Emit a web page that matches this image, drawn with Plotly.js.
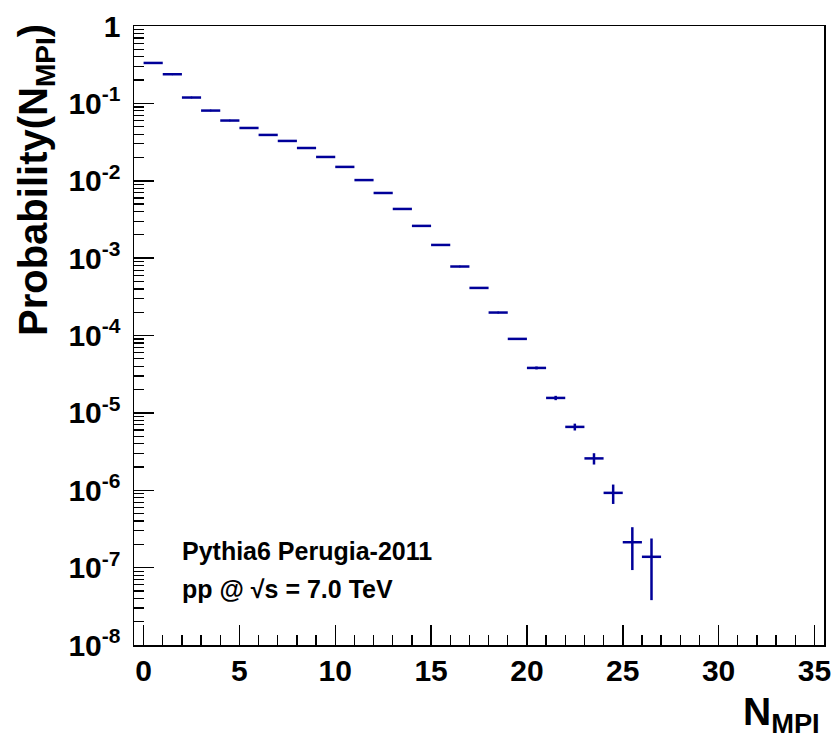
<!DOCTYPE html>
<html>
<head>
<meta charset="utf-8">
<script src="https://cdn.plot.ly/plotly-3.0.1.min.js"></script>
<style>html,body{margin:0;padding:0;background:#fff;}#chart{width:836px;height:741px;}</style>
</head>
<body>
<div id="chart"></div>
<script>
// Bin centres of N_MPI (bins of width 1)
var nmpi = [0.5, 1.5, 2.5, 3.5, 4.5, 5.5, 6.5, 7.5, 8.5, 9.5,
            10.5, 11.5, 12.5, 13.5, 14.5, 15.5, 16.5, 17.5, 18.5, 19.5,
            20.5, 21.5, 22.5, 23.5, 24.5, 25.5, 26.5];
var probability = [0.333, 0.238, 0.119, 0.0807, 0.0600, 0.0481, 0.0391, 0.0327, 0.0265, 0.0203,
                   0.0151, 0.0102, 0.00695, 0.00432, 0.00261, 0.00148, 7.79e-4, 4.12e-4, 1.98e-4, 9.04e-5,
                   3.81e-5, 1.56e-5, 6.59e-6, 2.58e-6, 9.25e-7, 2.13e-7, 1.38e-7];
var probError = [1.5e-4, 1.3e-4, 9e-5, 7.5e-5, 6.4e-5, 5.8e-5, 5.2e-5, 4.8e-5, 4.3e-5, 3.7e-5,
                 3.2e-5, 2.6e-5, 2.2e-5, 1.7e-5, 1.3e-5, 1.0e-5, 7.3e-6, 5.3e-6, 3.7e-6, 2.5e-6,
                 1.6e-6, 1.0e-6, 6.7e-7, 4.3e-7, 2.6e-7, 1.2e-7, 1.0e-7];
var binHalfWidth = [0.5];
var yTickVals = [1, 1e-1, 1e-2, 1e-3, 1e-4, 1e-5, 1e-6, 1e-7, 1e-8];
var yTickText = ['1', '10<sup>-1</sup>', '10<sup>-2</sup>', '10<sup>-3</sup>', '10<sup>-4</sup>',
                 '10<sup>-5</sup>', '10<sup>-6</sup>', '10<sup>-7</sup>', '10<sup>-8</sup>'];
var xTickVals = [0, 5, 10, 15, 20, 25, 30, 35];

var col = '#000099';
var trace = {
  x: nmpi,
  y: probability,
  type: 'scatter',
  mode: 'markers',
  marker: {size: 2, color: col},
  error_x: {type: 'constant', value: binHalfWidth[0], width: 0, thickness: 2.5, color: col},
  error_y: {type: 'data', array: probError, symmetric: true, width: 0, thickness: 2.5, color: col},
  hoverinfo: 'skip',
  showlegend: false
};

var fontFam = 'Liberation Sans, Arial, sans-serif';
var layout = {
  width: 836, height: 741,
  margin: {l: 134, r: 12, t: 26, b: 96},
  paper_bgcolor: '#ffffff', plot_bgcolor: '#ffffff',
  showlegend: false,
  xaxis: {
    range: [-0.5, 35.5],
    tickvals: xTickVals,
    ticks: 'inside', ticklen: 20, tickwidth: 1.5, tickcolor: '#000',
    minor: {ticks: 'inside', ticklen: 10, tickwidth: 1.2, tickcolor: '#000', dtick: 1, showgrid: false},
    showline: true, linecolor: '#000', linewidth: 1.5, mirror: true,
    showgrid: false, zeroline: false,
    ticklabelstandoff: -2,
    tickfont: {family: fontFam, size: 30, color: '#000', weight: 'bold'}
  },
  yaxis: {
    type: 'log',
    range: [-8, 0],
    tickvals: yTickVals, ticktext: yTickText,
    ticks: 'inside', ticklen: 20, tickwidth: 1.5, tickcolor: '#000',
    minor: {ticks: 'inside', ticklen: 10, tickwidth: 1.2, tickcolor: '#000', dtick: 'D1', showgrid: false},
    showline: true, linecolor: '#000', linewidth: 1.5, mirror: true,
    showgrid: false, zeroline: false,
    ticklabelstandoff: 6,
    tickfont: {family: fontFam, size: 30, color: '#000', weight: 'bold'}
  },
  annotations: [
    {text: 'Probability(N<sub>MPI</sub>)', textangle: -90, xref: 'paper', yref: 'paper',
     x: -0.143, y: 1.007, xanchor: 'center', yanchor: 'top', showarrow: false,
     font: {family: fontFam, size: 40, color: '#000', weight: 'bold'}},
    {text: 'N<sub>MPI</sub>', xref: 'paper', yref: 'paper',
     x: 0.997, y: -0.07, xanchor: 'right', yanchor: 'top', showarrow: false,
     font: {family: fontFam, size: 39, color: '#000', weight: 'bold'}},
    {text: 'Pythia6 Perugia-2011', xref: 'paper', yref: 'paper',
     x: 0.066, y: 0.1515, xanchor: 'left', yanchor: 'middle', showarrow: false,
     font: {family: fontFam, size: 25, color: '#000', weight: 'bold'}},
    {text: 'pp @ √s = 7.0 TeV', xref: 'paper', yref: 'paper',
     x: 0.066, y: 0.09, xanchor: 'left', yanchor: 'middle', showarrow: false,
     font: {family: fontFam, size: 25, color: '#000', weight: 'bold'}}
  ]
};

Plotly.newPlot('chart', [trace], layout, {staticPlot: true, displayModeBar: false});
</script>
</body>
</html>
